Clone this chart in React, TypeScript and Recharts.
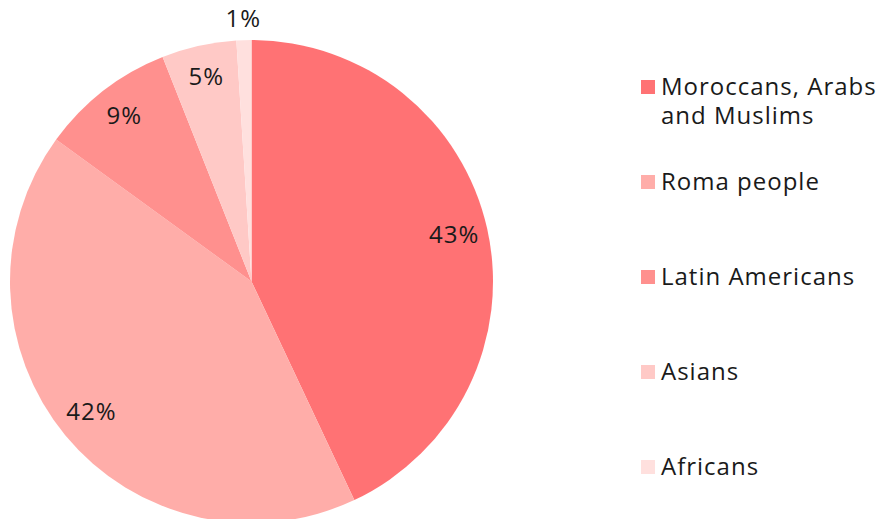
import { PieChart, Pie, Cell, Legend } from "recharts";

const GROUPS = ["Moroccans, Arabs and Muslims", "Roma people", "Latin Americans", "Asians", "Africans"];
const SHARES = [43, 42, 9, 5, 1];
const COLORS = ["#ff7274", "#ffada9", "#ff908e", "#ffc9c6", "#ffe0de"];
const LEGEND_LINES = [["Moroccans, Arabs", "and Muslims"], ["Roma people"], ["Latin Americans"], ["Asians"], ["Africans"]];

const data = GROUPS.map((name, i) => ({ name, value: SHARES[i] }));

const FONT = "'Open Sans', sans-serif";
const RADIAN = Math.PI / 180;

const renderLabel = (props: any) => {
  const { cx, cy, midAngle, outerRadius, value } = props;
  const r = value < 2 ? outerRadius + 20 : outerRadius * 0.86;
  const x = cx + r * Math.cos(-midAngle * RADIAN);
  const y = cy + r * Math.sin(-midAngle * RADIAN) - 3;
  return (
    <text
      x={x}
      y={y}
      textAnchor="middle"
      dominantBaseline="central"
      fill="#1a1a1a"
      fontSize={24}
      letterSpacing={1}
      fontFamily={FONT}
    >
      {value}%
    </text>
  );
};

const renderLegend = () => (
  <div style={{ fontFamily: FONT, fontSize: 24, letterSpacing: 1, color: "#1a1a1a" }}>
    {GROUPS.map((g, i) => (
      <div key={g} style={{ display: "flex", alignItems: "flex-start", height: 95 }}>
        <span style={{ width: 14, height: 14, background: COLORS[i], marginTop: 9, marginRight: 6, flex: "none" }} />
        <div style={{ lineHeight: "29px" }}>
          {LEGEND_LINES[i].map((l) => (
            <div key={l}>{l}</div>
          ))}
        </div>
      </div>
    ))}
  </div>
);

export default function App() {
  return (
    <div style={{ position: "absolute", left: 0, top: 0, background: "#fff" }}>
      <PieChart width={885} height={519} margin={{ top: 0, right: 0, bottom: 0, left: 0 }}>
        <Pie
          data={data}
          dataKey="value"
          nameKey="name"
          cx={251.5}
          cy={281.5}
          outerRadius={241.5}
          startAngle={90}
          endAngle={-270}
          stroke="none"
          label={renderLabel}
          labelLine={false}
          isAnimationActive={false}
        >
          {data.map((d, i) => (
            <Cell key={d.name} fill={COLORS[i]} />
          ))}
        </Pie>
        <Legend content={renderLegend} wrapperStyle={{ left: 641, top: 71, width: 244 }} />
      </PieChart>
    </div>
  );
}
